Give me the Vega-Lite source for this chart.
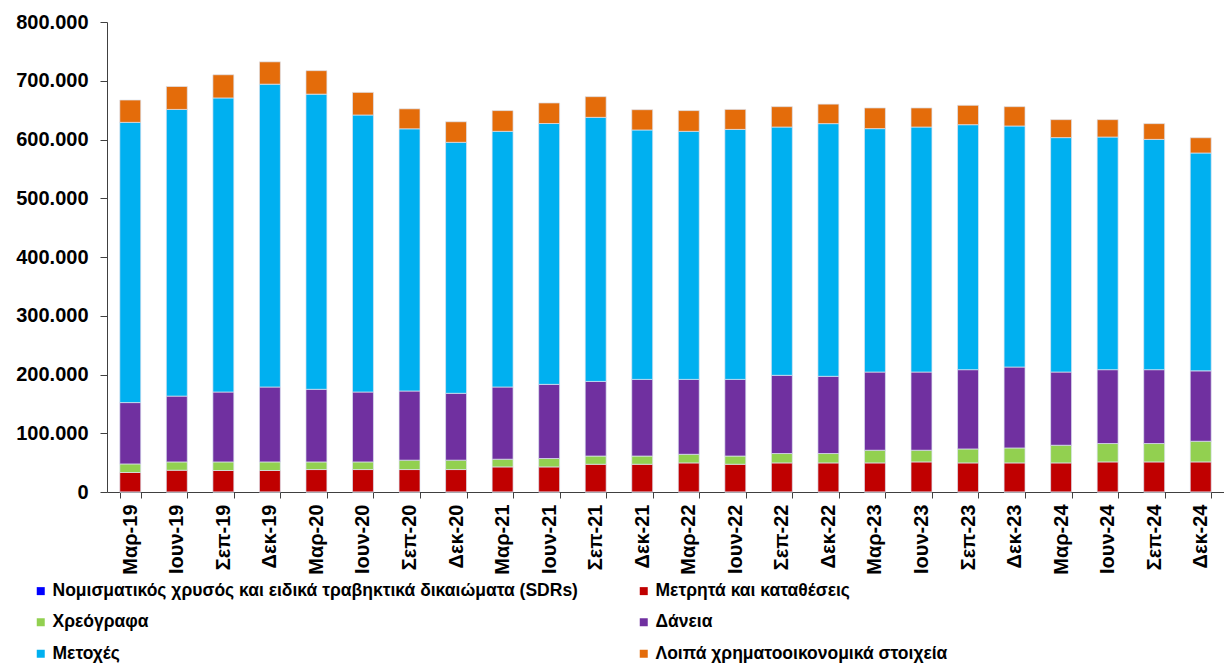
{
  "$schema": "https://vega.github.io/schema/vega-lite/v6.json",
  "width": 1117,
  "height": 470,
  "autosize": {"type": "none"},
  "padding": {"left": 107, "top": 22, "right": 0, "bottom": 174},
  "background": "white",
  "config": {"view": {"stroke": null}, "font": "Liberation Sans"},
  "data": {"values": [
    {"q": "Μαρ-19", "SDR": 200, "Μετρητά και καταθέσεις": 33000, "Χρεόγραφα": 14600, "Δάνεια": 104400, "Μετοχές": 477000, "Λοιπά χρηματοοικονομικά στοιχεία": 38000},
    {"q": "Ιουν-19", "SDR": 200, "Μετρητά και καταθέσεις": 36900, "Χρεόγραφα": 14100, "Δάνεια": 112000, "Μετοχές": 488000, "Λοιπά χρηματοοικονομικά στοιχεία": 39000},
    {"q": "Σεπ-19", "SDR": 200, "Μετρητά και καταθέσεις": 36400, "Χρεόγραφα": 14600, "Δάνεια": 119000, "Μετοχές": 500500, "Λοιπά χρηματοοικονομικά στοιχεία": 39500},
    {"q": "Δεκ-19", "SDR": 200, "Μετρητά και καταθέσεις": 36400, "Χρεόγραφα": 14600, "Δάνεια": 127500, "Μετοχές": 515500, "Λοιπά χρηματοοικονομικά στοιχεία": 38000},
    {"q": "Μαρ-20", "SDR": 200, "Μετρητά και καταθέσεις": 38000, "Χρεόγραφα": 13000, "Δάνεια": 123600, "Μετοχές": 502400, "Λοιπά χρηματοοικονομικά στοιχεία": 40000},
    {"q": "Ιουν-20", "SDR": 200, "Μετρητά και καταθέσεις": 38000, "Χρεόγραφα": 13000, "Δάνεια": 119000, "Μετοχές": 471500, "Λοιπά χρηματοοικονομικά στοιχεία": 38500},
    {"q": "Σεπ-20", "SDR": 200, "Μετρητά και καταθέσεις": 38000, "Χρεόγραφα": 16000, "Δάνεια": 117700, "Μετοχές": 446300, "Λοιπά χρηματοοικονομικά στοιχεία": 34000},
    {"q": "Δεκ-20", "SDR": 200, "Μετρητά και καταθέσεις": 38000, "Χρεόγραφα": 16000, "Δάνεια": 113800, "Μετοχές": 427200, "Λοιπά χρηματοοικονομικά στοιχεία": 35000},
    {"q": "Μαρ-21", "SDR": 200, "Μετρητά και καταθέσεις": 42500, "Χρεόγραφα": 13100, "Δάνεια": 122900, "Μετοχές": 435200, "Λοιπά χρηματοοικονομικά στοιχεία": 35300},
    {"q": "Ιουν-21", "SDR": 200, "Μετρητά και καταθέσεις": 42500, "Χρεόγραφα": 14300, "Δάνεια": 126200, "Μετοχές": 444000, "Λοιπά χρηματοοικονομικά στοιχεία": 35000},
    {"q": "Σεπ-21", "SDR": 200, "Μετρητά και καταθέσεις": 47000, "Χρεόγραφα": 14000, "Δάνεια": 127000, "Μετοχές": 449500, "Λοιπά χρηματοοικονομικά στοιχεία": 35200},
    {"q": "Δεκ-21", "SDR": 200, "Μετρητά και καταθέσεις": 47000, "Χρεόγραφα": 14000, "Δάνεια": 130500, "Μετοχές": 424500, "Λοιπά χρηματοοικονομικά στοιχεία": 34500},
    {"q": "Μαρ-22", "SDR": 200, "Μετρητά και καταθέσεις": 49300, "Χρεόγραφα": 14700, "Δάνεια": 127500, "Μετοχές": 422200, "Λοιπά χρηματοοικονομικά στοιχεία": 35300},
    {"q": "Ιουν-22", "SDR": 200, "Μετρητά και καταθέσεις": 47000, "Χρεόγραφα": 14000, "Δάνεια": 130500, "Μετοχές": 425500, "Λοιπά χρηματοοικονομικά στοιχεία": 34000},
    {"q": "Σεπ-22", "SDR": 200, "Μετρητά και καταθέσεις": 49300, "Χρεόγραφα": 16000, "Δάνεια": 133100, "Μετοχές": 422600, "Λοιπά χρηματοοικονομικά στοιχεία": 34700},
    {"q": "Δεκ-22", "SDR": 200, "Μετρητά και καταθέσεις": 49300, "Χρεόγραφα": 16000, "Δάνεια": 131400, "Μετοχές": 430100, "Λοιπά χρηματοοικονομικά στοιχεία": 33200},
    {"q": "Μαρ-23", "SDR": 200, "Μετρητά και καταθέσεις": 49300, "Χρεόγραφα": 21600, "Δάνεια": 133100, "Μετοχές": 414300, "Λοιπά χρηματοοικονομικά στοιχεία": 35200},
    {"q": "Ιουν-23", "SDR": 200, "Μετρητά και καταθέσεις": 51000, "Χρεόγραφα": 19900, "Δάνεια": 133100, "Μετοχές": 417000, "Λοιπά χρηματοοικονομικά στοιχεία": 32500},
    {"q": "Σεπ-23", "SDR": 200, "Μετρητά και καταθέσεις": 49300, "Χρεόγραφα": 23800, "Δάνεια": 134900, "Μετοχές": 417000, "Λοιπά χρηματοοικονομικά στοιχεία": 33000},
    {"q": "Δεκ-23", "SDR": 200, "Μετρητά και καταθέσεις": 49300, "Χρεόγραφα": 25500, "Δάνεια": 137700, "Μετοχές": 410300, "Λοιπά χρηματοοικονομικά στοιχεία": 32900},
    {"q": "Μαρ-24", "SDR": 200, "Μετρητά και καταθέσεις": 49300, "Χρεόγραφα": 30100, "Δάνεια": 124600, "Μετοχές": 399000, "Λοιπά χρηματοοικονομικά στοιχεία": 30600},
    {"q": "Ιουν-24", "SDR": 200, "Μετρητά και καταθέσεις": 51000, "Χρεόγραφα": 31300, "Δάνεια": 125700, "Μετοχές": 396000, "Λοιπά χρηματοοικονομικά στοιχεία": 29600},
    {"q": "Σεπ-24", "SDR": 200, "Μετρητά και καταθέσεις": 51000, "Χρεόγραφα": 31300, "Δάνεια": 125700, "Μετοχές": 392000, "Λοιπά χρηματοοικονομικά στοιχεία": 26800},
    {"q": "Δεκ-24", "SDR": 200, "Μετρητά και καταθέσεις": 51000, "Χρεόγραφα": 35200, "Δάνεια": 119800, "Μετοχές": 370800, "Λοιπά χρηματοοικονομικά στοιχεία": 26000}
  ]},
  "transform": [
    {"fold": ["SDR", "Μετρητά και καταθέσεις", "Χρεόγραφα", "Δάνεια", "Μετοχές", "Λοιπά χρηματοοικονομικά στοιχεία"], "as": ["key", "v"]},
    {"lookup": "key", "from": {"data": {"values": [
      {"key": "SDR", "o": 1},
      {"key": "Μετρητά και καταθέσεις", "o": 2},
      {"key": "Χρεόγραφα", "o": 3},
      {"key": "Δάνεια", "o": 4},
      {"key": "Μετοχές", "o": 5},
      {"key": "Λοιπά χρηματοοικονομικά στοιχεία", "o": 6}
    ]}, "key": "key", "fields": ["o"]}}
  ],
  "mark": {"type": "bar", "stroke": "#dde4f0", "strokeWidth": 0.7},
  "encoding": {
    "x": {
      "field": "q", "type": "nominal", "sort": null,
      "scale": {"paddingInner": 0.55, "paddingOuter": 0.275},
      "axis": {"title": null, "labelAngle": -90, "labelFontSize": 20, "labelFontWeight": "bold", "labelColor": "black", "domainColor": "#404040", "tickColor": "#404040", "tickBand": "extent", "tickSize": 6, "labelPadding": 6}
    },
    "y": {
      "field": "v", "type": "quantitative", "stack": "zero",
      "scale": {"domain": [0, 800000], "nice": false},
      "axis": {"title": null, "grid": false, "values": [0, 100000, 200000, 300000, 400000, 500000, 600000, 700000, 800000], "labelExpr": "replace(format(datum.value, ',d'), ',', '.')", "labelFontSize": 20, "labelFontWeight": "bold", "labelColor": "black", "domainColor": "#404040", "tickColor": "#404040", "tickSize": 7, "labelPadding": 12}
    },
    "color": {
      "field": "key", "type": "nominal",
      "scale": {
        "domain": ["SDR", "Μετρητά και καταθέσεις", "Χρεόγραφα", "Δάνεια", "Μετοχές", "Λοιπά χρηματοοικονομικά στοιχεία"],
        "range": ["#0000FF", "#C00000", "#92D050", "#7030A0", "#00B0F0", "#E46C0A"]
      },
      "legend": {
        "title": null, "orient": "none", "legendX": -75, "legendY": 560, "columns": 2,
        "values": ["SDR", "Χρεόγραφα", "Μετοχές", "Μετρητά και καταθέσεις", "Δάνεια", "Λοιπά χρηματοοικονομικά στοιχεία"],
        "symbolType": "square", "symbolSize": 64, "symbolStrokeWidth": 0,
        "labelFontSize": 17.5, "labelFontWeight": "bold", "labelColor": "black", "labelLimit": 700, "labelOffset": 3,
        "rowPadding": 12.5, "columnPadding": 57,
        "labelExpr": "datum.label == 'SDR' ? 'Νομισματικός χρυσός και ειδικά τραβηκτικά δικαιώματα (SDRs)' : datum.label"
      }
    },
    "order": {"field": "o", "type": "quantitative", "sort": "ascending"}
  }
}
